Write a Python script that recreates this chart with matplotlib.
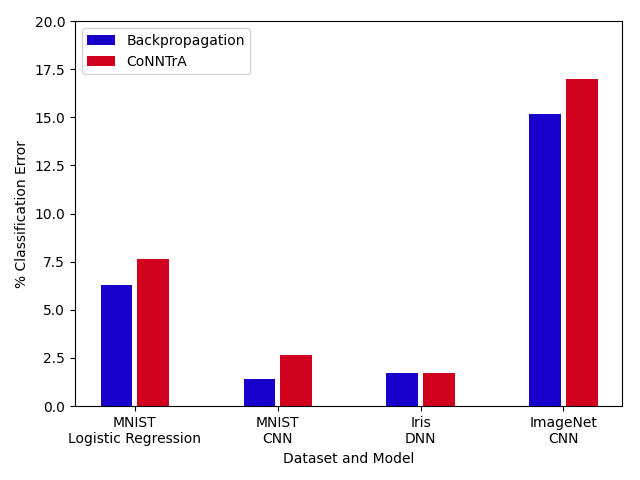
import matplotlib
matplotlib.use("Agg")
import matplotlib.pyplot as plt
import numpy as np

categories = ["MNIST\nLogistic Regression", "MNIST\nCNN", "Iris\nDNN", "ImageNet\nCNN"]
backprop = [6.28, 1.40, 1.71, 15.17]
conntra = [7.63, 2.65, 1.71, 16.99]

x = np.arange(len(categories))
width = 0.222

fig, ax = plt.subplots(figsize=(6.4, 4.8), dpi=100)
ax.bar(x - 0.128, backprop, width, color="#1900cc", label="Backpropagation")
ax.bar(x + 0.128, conntra, width, color="#d0001e", label="CoNNTrA")
ax.set_xticks(x)
ax.set_xticklabels(categories)
ax.set_ylim(0, 20)
ax.set_xlim(-0.42, 3.413)
ax.set_xlabel("Dataset and Model")
ax.set_ylabel("% Classification Error")
ax.legend(loc="upper left")
fig.subplots_adjust(left=0.117, right=0.9725, top=0.956, bottom=0.154)
fig.savefig("out.png")
